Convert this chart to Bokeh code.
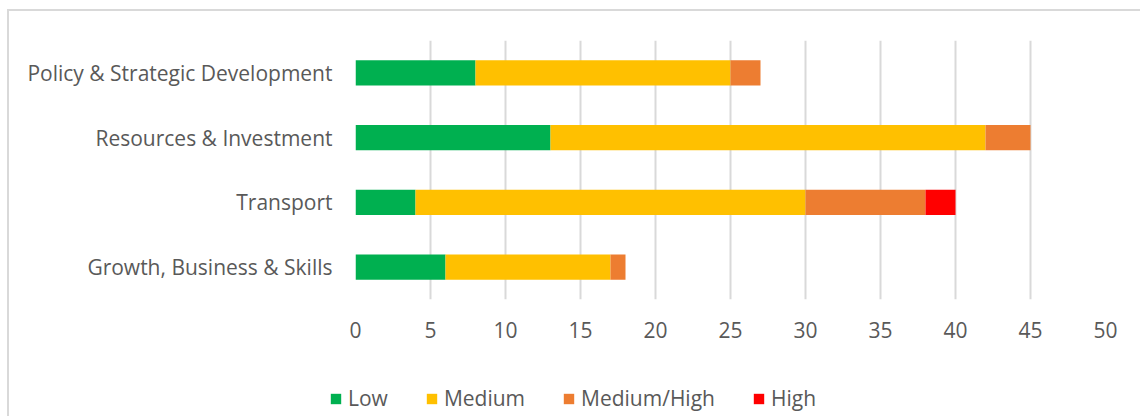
from bokeh.plotting import figure
from bokeh.layouts import column
from bokeh.models import ColumnDataSource, FactorRange, FixedTicker, Legend, LegendItem, Range1d
from bokeh.embed import file_html
from bokeh.resources import INLINE

categories = ["Growth, Business & Skills", "Transport", "Resources & Investment", "Policy & Strategic Development"]
low = [6, 4, 13, 8]
medium = [11, 26, 29, 17]
med_high = [1, 8, 3, 2]
high = [0, 2, 0, 0]
series = ["Low", "Medium", "Medium/High", "High"]
colors = ["#00B050", "#FFC000", "#ED7D31", "#FF0000"]
x_ticks = [0, 5, 10, 15, 20, 25, 30, 35, 40, 45, 50]

source = ColumnDataSource(dict(cat=categories, Low=low, Medium=medium, **{"Medium/High": med_high}, High=high))

FONT = "Open Sans"
TXT = "#595959"
FS = "21px"

# main chart
p = figure(width=1131, height=350, output_backend="svg", toolbar_location=None,
           y_range=FactorRange(factors=categories, range_padding=0),
           x_range=Range1d(0, 50),
           min_border_left=346, min_border_right=35, min_border_top=29, min_border_bottom=62)
p.outline_line_color = None

renderers = p.hbar_stack(series, y="cat", height=0.39, color=colors, source=source, line_color=None)

p.xaxis.ticker = FixedTicker(ticks=x_ticks)
p.xaxis.axis_line_color = None
p.xaxis.major_tick_line_color = None
p.xaxis.minor_tick_line_color = None
p.xaxis.major_tick_out = 0
p.xaxis.major_label_standoff = 22
p.xaxis.major_label_text_font = FONT
p.xaxis.major_label_text_font_size = FS
p.xaxis.major_label_text_color = TXT

p.yaxis.axis_line_color = None
p.yaxis.major_tick_line_color = None
p.yaxis.major_tick_out = 0
p.yaxis.major_label_standoff = 23
p.yaxis.major_label_text_font = FONT
p.yaxis.major_label_text_font_size = FS
p.yaxis.major_label_text_color = TXT

p.xgrid.grid_line_color = "#D9D9D9"
p.xgrid.grid_line_width = 2
p.ygrid.grid_line_color = None

# legend strip (same series with zero-height bars, so only the legend shows)
q = figure(width=1131, height=55, output_backend="svg", toolbar_location=None,
           x_axis_location=None, y_axis_location=None,
           y_range=FactorRange(factors=categories), x_range=Range1d(-200, -100),
           min_border_left=0, min_border_right=0, min_border_top=0, min_border_bottom=0)
q.grid.visible = False
q.outline_line_color = None
q_renderers = q.hbar_stack(series, y="cat", height=0, color=colors, source=source, line_color=None)

items = [LegendItem(label=name, renderers=[r]) for r, name in zip(q_renderers, series)]
leg = Legend(items=items, location=(320, 4), orientation="horizontal",
             padding=0, margin=0, spacing=37,
             glyph_width=13, glyph_height=13, label_height=13, label_standoff=6,
             border_line_color=None, background_fill_alpha=0,
             label_text_font=FONT, label_text_font_size=FS, label_text_color=TXT)
q.add_layout(leg)

layout = column(p, column(q), spacing=0)
layout.styles = {"margin-left": "7px", "margin-top": "9px",
                 "border-top": "2px solid #D9D9D9", "border-left": "2px solid #D9D9D9"}

open("out.html", "w").write(file_html(layout, INLINE))
